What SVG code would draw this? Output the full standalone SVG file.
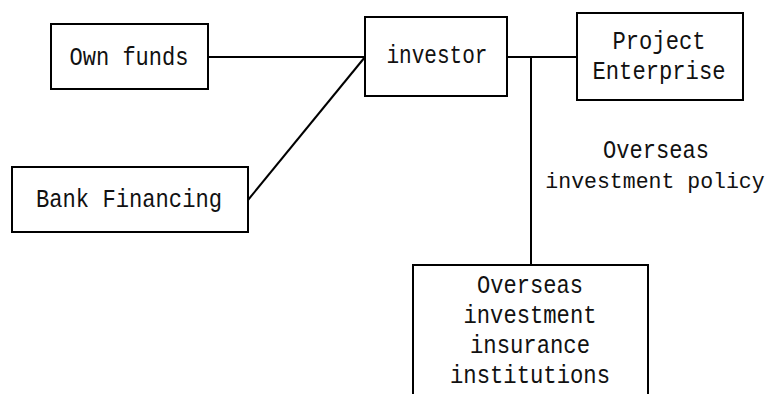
<svg xmlns="http://www.w3.org/2000/svg" width="772" height="394" viewBox="0 0 772 394">
<style>
rect{fill:#fff;stroke:#000;stroke-width:2}
line{stroke:#000;stroke-width:2;fill:none}
text{font-family:"Liberation Mono","DejaVu Sans Mono",monospace;font-size:25px;fill:#111;text-anchor:middle}
.p{font-size:21.5px}
</style>
<rect x="0" y="0" width="772" height="394" style="stroke:none"/>
<g id="connectors">
<line x1="208" y1="57" x2="365" y2="57"/>
<line x1="365" y1="57" x2="248" y2="200"/>
<line x1="507" y1="57" x2="577" y2="57"/>
<line x1="531" y1="57" x2="531" y2="265"/>
</g>
<g id="own-funds"><rect x="51" y="24" width="157" height="65"/><text x="129" y="65" textLength="119" lengthAdjust="spacingAndGlyphs">Own funds</text></g>
<g id="bank-financing"><rect x="12" y="167" width="236" height="65"/><text x="129" y="207" textLength="186" lengthAdjust="spacingAndGlyphs">Bank Financing</text></g>
<g id="investor"><rect x="365" y="17" width="142" height="79"/><text x="437" y="63" textLength="101" lengthAdjust="spacingAndGlyphs">investor</text></g>
<g id="project-enterprise"><rect x="577" y="13" width="166" height="87"/><text x="659" y="49" textLength="93" lengthAdjust="spacingAndGlyphs">Project</text><text x="659" y="79" textLength="133" lengthAdjust="spacingAndGlyphs">Enterprise</text></g>
<g id="policy-label"><text x="656" y="158" textLength="106" lengthAdjust="spacingAndGlyphs">Overseas</text><text class="p" x="655" y="188">investment policy</text></g>
<g id="insurance"><rect x="413" y="265" width="235" height="140"/><text x="530" y="293" textLength="106" lengthAdjust="spacingAndGlyphs">Overseas</text><text x="530" y="323" textLength="133" lengthAdjust="spacingAndGlyphs">investment</text><text x="530" y="353" textLength="120" lengthAdjust="spacingAndGlyphs">insurance</text><text x="530" y="383" textLength="160" lengthAdjust="spacingAndGlyphs">institutions</text></g>
</svg>
